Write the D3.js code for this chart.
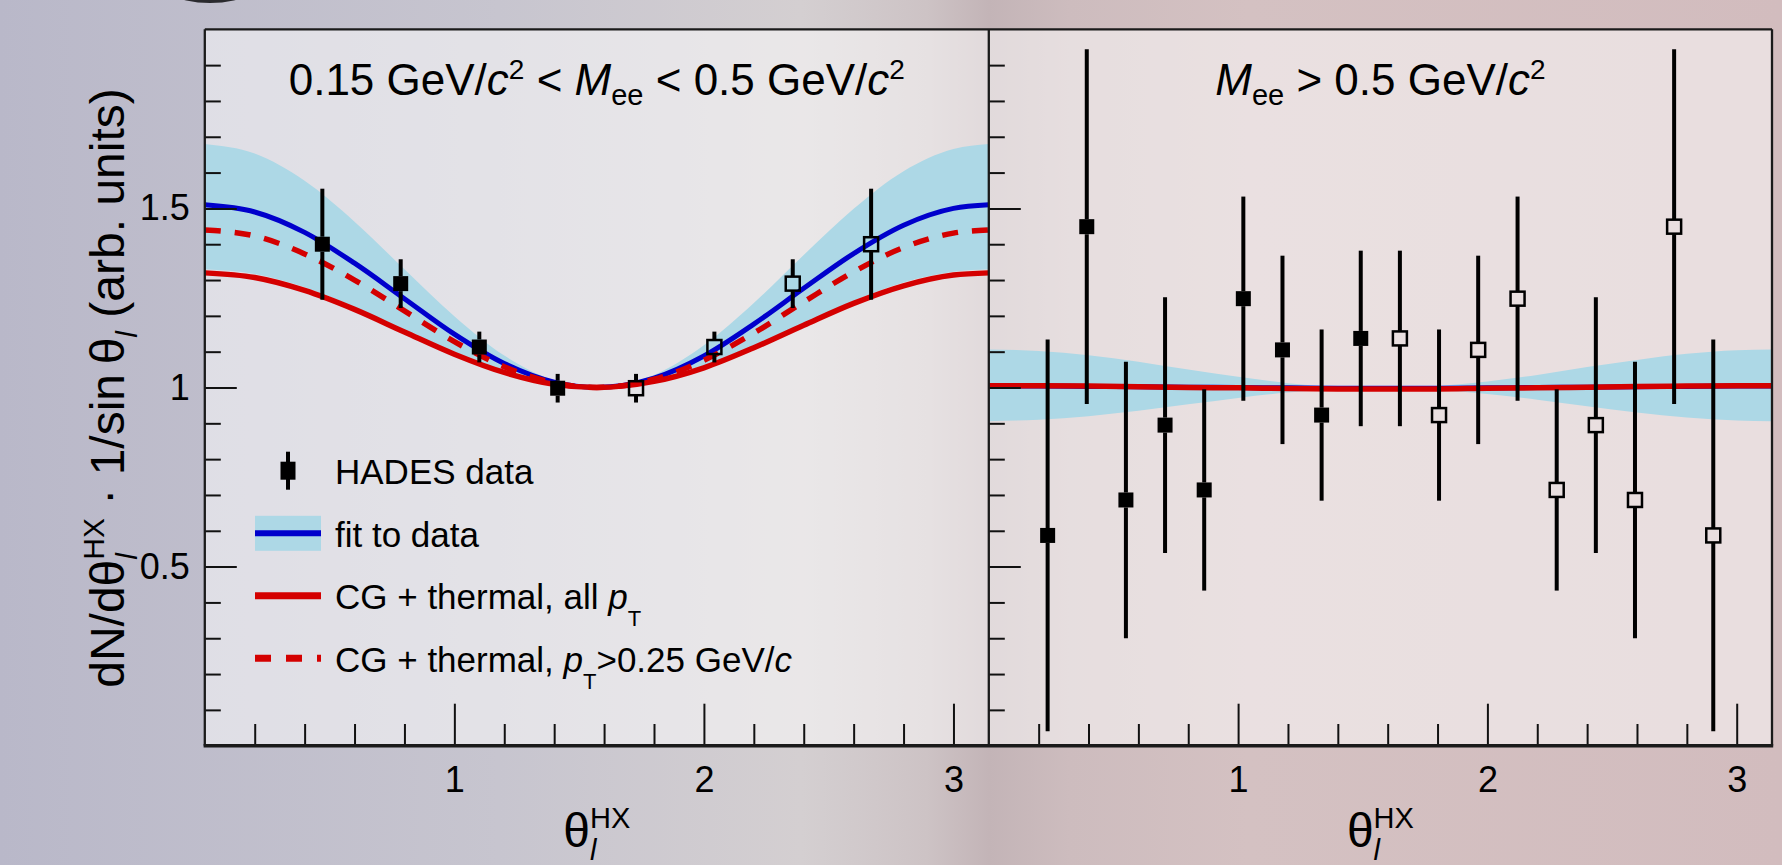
<!DOCTYPE html>
<html>
<head>
<meta charset="utf-8">
<script src="https://cdn.jsdelivr.net/npm/d3@7"></script>
<style>
  html, body { margin: 0; padding: 0; overflow: hidden; background: #c8c4cc; }
  svg text { font-family: "Liberation Sans", Arial, sans-serif; fill: #000; white-space: pre; }
</style>
</head>
<body>
<svg id="chart" width="1782" height="865"></svg>
<script>
'use strict'

// curve samples
var thetaGrid = [0, 0.2, 0.4, 0.6, 0.8, 1.0, 1.2, 1.4, 1.571, 1.8, 2.0, 2.2, 2.4, 2.6, 2.8, 3.0, 3.142];

var lowFit    = [1.51, 1.49, 1.433, 1.347, 1.248, 1.149, 1.067, 1.015, 1.0, 1.026, 1.088, 1.177, 1.277, 1.374, 1.453, 1.500, 1.51];
var lowBandHi = [1.68, 1.653, 1.577, 1.463, 1.330, 1.199, 1.089, 1.020, 1.0, 1.035, 1.118, 1.236, 1.370, 1.499, 1.604, 1.666, 1.68];
var lowBandLo = [1.33, 1.317, 1.280, 1.225, 1.160, 1.096, 1.043, 1.010, 1.0, 1.017, 1.057, 1.114, 1.179, 1.242, 1.293, 1.323, 1.33];
var lowCgAll  = [1.32, 1.307, 1.271, 1.218, 1.155, 1.093, 1.042, 1.009, 1.0, 1.017, 1.055, 1.111, 1.174, 1.235, 1.284, 1.314, 1.32];
var lowCgPt   = [1.44, 1.423, 1.373, 1.300, 1.214, 1.128, 1.058, 1.013, 1.0, 1.023, 1.076, 1.152, 1.239, 1.323, 1.391, 1.431, 1.44];

var highFit    = [1.004, 1.004, 1.003, 1.002, 1.001, 1.0, 0.999, 0.998, 0.998, 0.998, 0.999, 1.0, 1.001, 1.002, 1.003, 1.004, 1.004];
var highBandHi = [1.106, 1.102, 1.090, 1.072, 1.050, 1.030, 1.012, 1.001, 0.998, 1.004, 1.017, 1.035, 1.057, 1.077, 1.094, 1.104, 1.106];
var highBandLo = [0.906, 0.910, 0.920, 0.935, 0.953, 0.971, 0.986, 0.995, 0.998, 0.993, 0.982, 0.966, 0.948, 0.930, 0.916, 0.908, 0.906];
var highCgAll  = [1.005, 1.005, 1.004, 1.002, 1.000, 0.999, 0.997, 0.996, 0.996, 0.996, 0.998, 0.999, 1.001, 1.003, 1.004, 1.005, 1.005];

// HADES points
var lowBins   = [0.471, 0.785, 1.100, 1.414, 1.728, 2.042, 2.356, 2.670];
var lowValues = [1.40, 1.29, 1.113, 0.998, 0.998, 1.113, 1.29, 1.40];
var lowErrors = [0.155, 0.068, 0.043, 0.040, 0.040, 0.043, 0.068, 0.155];

var highBins   = [0.236, 0.393, 0.550, 0.707, 0.864, 1.021, 1.178, 1.335, 1.492, 1.649, 1.806, 1.963, 2.121, 2.278, 2.435, 2.592, 2.749, 2.906];
var highValues = [0.587, 1.449, 0.686, 0.895, 0.714, 1.248, 1.105, 0.923, 1.137, 1.137, 0.923, 1.105, 1.248, 0.714, 0.895, 0.686, 1.449, 0.587];
var highErrors = [0.547, 0.495, 0.386, 0.357, 0.281, 0.285, 0.263, 0.239, 0.245, 0.245, 0.239, 0.263, 0.285, 0.281, 0.357, 0.386, 0.495, 0.547];

var xMajorTicks = [1, 2, 3];
var xMinorTicks = [0.2, 0.4, 0.6, 0.8, 1.2, 1.4, 1.6, 1.8, 2.2, 2.4, 2.6, 2.8];
var yMajorTicks = [0.5, 1, 1.5];
var yMinorTicks = [0.1, 0.2, 0.3, 0.4, 0.6, 0.7, 0.8, 0.9, 1.1, 1.2, 1.3, 1.4, 1.6, 1.7, 1.8, 1.9];

var legendLabels = ["HADES data", "fit to data", "CG + thermal, all ", "CG + thermal, "];

var BLUE = "#0000cc", RED = "#d40000", BAND = "#add8e6";

var svg = d3.select("#chart");
var defs = svg.append("defs");

var grad = defs.append("linearGradient").attr("id", "bg")
    .attr("x1", 0).attr("x2", 1).attr("y1", 0).attr("y2", 0);
[[0, "#b9b8c9"], [0.28, "#c7c5cf"], [0.45, "#d4cfd1"], [0.52, "#cdc3c5"], [0.555, "#c3b4b7"],
 [0.6, "#cdbcbe"], [0.7, "#d4c1c2"], [1, "#d2bcbe"]].forEach(function (s) {
    grad.append("stop").attr("offset", s[0]).attr("stop-color", s[1]);
});
svg.append("rect").attr("width", 1782).attr("height", 865).attr("fill", "url(#bg)");
svg.append("ellipse").attr("cx", 210).attr("cy", -30).attr("rx", 62).attr("ry", 33).attr("fill", "#2a2a2e");

var yTop = 29.3, yBot = 745.7;
var y = d3.scaleLinear().domain([0, 2]).range([yBot, yTop]);
var xLow = d3.scaleLinear().domain([0, Math.PI]).range([204.8, 988.8]);
var xHigh = d3.scaleLinear().domain([0, Math.PI]).range([988.8, 1772]);

function richText(sel, parts) {
    var cur = 0;
    parts.forEach(function (p) {
        var s = p.shift || 0;
        var ts = sel.append("tspan").attr("dy", s - cur).text(p.t);
        if (p.size) ts.attr("font-size", p.size);
        if (p.it) ts.attr("font-style", "italic");
        if (p.back) ts.attr("dx", -sel.node().lastChild.previousSibling.getComputedTextLength());
        cur = s;
    });
    return sel;
}

function curveLine(x, vals) {
    return d3.line()
        .x(function (d, i) { return x(thetaGrid[i]); })
        .y(function (d) { return y(d); })
        .curve(d3.curveMonotoneX)(vals);
}

function bandArea(x, lo, hi) {
    return d3.area()
        .x(function (d, i) { return x(thetaGrid[i]); })
        .y0(function (d, i) { return y(lo[i]); })
        .y1(function (d) { return y(d); })
        .curve(d3.curveMonotoneX)(hi);
}

function drawPoints(g, x, bins, vals, errs) {
    var half = 7.5;
    bins.forEach(function (b, i) {
        var cx = x(b), cy = y(vals[i]);
        var open = b > Math.PI / 2;
        g.append("line").attr("x1", cx).attr("x2", cx)
            .attr("y1", y(vals[i] + errs[i])).attr("y2", cy - half)
            .attr("stroke", "#000").attr("stroke-width", 4);
        g.append("line").attr("x1", cx).attr("x2", cx)
            .attr("y1", cy + half).attr("y2", y(vals[i] - errs[i]))
            .attr("stroke", "#000").attr("stroke-width", 4);
        if (open) {
            g.append("rect").attr("x", cx - 7).attr("y", cy - 7).attr("width", 14).attr("height", 14)
                .attr("fill", "none").attr("stroke", "#000").attr("stroke-width", 2.5);
        } else {
            g.append("rect").attr("x", cx - half).attr("y", cy - half).attr("width", 15).attr("height", 15)
                .attr("fill", "#000");
        }
    });
}

function drawAxes(g, x, withYLabels) {
    var x0 = x.range()[0];
    var ax = g.append("g").attr("transform", "translate(0," + yBot + ")");
    ax.append("g").call(d3.axisBottom(x).tickValues(xMajorTicks).tickSize(-42).tickPadding(21).tickFormat(d3.format("d")));
    ax.append("g").call(d3.axisBottom(x).tickValues(xMinorTicks).tickSize(-21.7).tickFormat(""));
    var ay = g.append("g").attr("transform", "translate(" + x0 + ",0)");
    ay.append("g").call(d3.axisLeft(y).tickValues(yMajorTicks).tickSize(-32).tickPadding(15)
        .tickFormat(withYLabels ? d3.format("") : ""));
    ay.append("g").call(d3.axisLeft(y).tickValues(yMinorTicks).tickSize(-16).tickFormat(""));
    g.selectAll(".domain").remove();
    g.selectAll(".tick line").attr("stroke", "#111").attr("stroke-width", 2);
    g.selectAll(".tick text").attr("font-size", 36).attr("font-family", "Liberation Sans, Arial, sans-serif").attr("fill", "#000");
}

function xTitle(g, x) {
    var cx = (x.range()[0] + x.range()[1]) / 2;
    var t = g.append("text").attr("x", cx).attr("y", 846.7).attr("text-anchor", "middle").attr("font-size", 48);
    richText(t, [
        { t: "\u03b8" },
        { t: "l", size: 29, it: true, shift: 13 },
        { t: "HX", size: 29, shift: -19, back: true }
    ]);
}

// panels
var panels = [
    { x: xLow, fit: lowFit, hi: lowBandHi, lo: lowBandLo, cg: lowCgAll, cgPt: lowCgPt,
      bins: lowBins, vals: lowValues, errs: lowErrors, labels: true },
    { x: xHigh, fit: highFit, hi: highBandHi, lo: highBandLo, cg: highCgAll, cgPt: null,
      bins: highBins, vals: highValues, errs: highErrors, labels: false }
];

panels.forEach(function (p) {
    var g = svg.append("g");
    var r = p.x.range();
    g.append("rect").attr("x", r[0]).attr("y", yTop).attr("width", r[1] - r[0]).attr("height", yBot - yTop)
        .attr("fill", "#ffffff").attr("fill-opacity", 0.5);
    g.append("path").attr("d", bandArea(p.x, p.lo, p.hi)).attr("fill", BAND);
    g.append("path").attr("d", curveLine(p.x, p.fit)).attr("fill", "none").attr("stroke", BLUE).attr("stroke-width", 5);
    if (p.cgPt) {
        g.append("path").attr("d", curveLine(p.x, p.cgPt)).attr("fill", "none").attr("stroke", RED)
            .attr("stroke-width", 5.5).attr("stroke-dasharray", "16,14");
    }
    g.append("path").attr("d", curveLine(p.x, p.cg)).attr("fill", "none").attr("stroke", RED).attr("stroke-width", 5.5);
    drawPoints(g, p.x, p.bins, p.vals, p.errs);
    drawAxes(g, p.x, p.labels);
    xTitle(g, p.x);
});

// panel titles
var t1 = svg.append("text").attr("x", 596.8).attr("y", 95).attr("text-anchor", "middle").attr("font-size", 44);
richText(t1, [
    { t: "0.15 GeV/" }, { t: "c", it: true }, { t: "2", size: 28, shift: -16 },
    { t: " < " }, { t: "M", it: true }, { t: "ee", size: 29, shift: 10 },
    { t: " < 0.5 GeV/" }, { t: "c", it: true }, { t: "2", size: 28, shift: -16 }
]);
var t2 = svg.append("text").attr("x", 1380.4).attr("y", 95).attr("text-anchor", "middle").attr("font-size", 44);
richText(t2, [
    { t: "M", it: true }, { t: "ee", size: 29, shift: 10 },
    { t: " > 0.5 GeV/" }, { t: "c", it: true }, { t: "2", size: 28, shift: -16 }
]);

// y title
var yt = svg.append("text").attr("transform", "translate(124,388) rotate(-90)")
    .attr("text-anchor", "middle").attr("font-size", 48);
richText(yt, [
    { t: "dN/d\u03b8" },
    { t: "l", size: 30, it: true, shift: 13 },
    { t: "HX", size: 30, shift: -20, back: true },
    { t: " \u00b7 1/sin\u2009\u03b8" },
    { t: "l", size: 30, it: true, shift: 13 },
    { t: " (arb. units)" }
]);

// legend
var lg = svg.append("g");
var lx = 255, lw = 66, tx = 335;
var rows = [470.7, 533.3, 595.7, 658.3];
lg.append("line").attr("x1", lx + lw / 2).attr("x2", lx + lw / 2).attr("y1", rows[0] - 19).attr("y2", rows[0] + 19)
    .attr("stroke", "#000").attr("stroke-width", 4);
lg.append("rect").attr("x", lx + lw / 2 - 7.5).attr("y", rows[0] - 9).attr("width", 15).attr("height", 18).attr("fill", "#000");
lg.append("rect").attr("x", lx).attr("y", rows[1] - 17.5).attr("width", lw).attr("height", 35).attr("fill", BAND);
lg.append("line").attr("x1", lx).attr("x2", lx + lw).attr("y1", rows[1]).attr("y2", rows[1])
    .attr("stroke", BLUE).attr("stroke-width", 6);
lg.append("line").attr("x1", lx).attr("x2", lx + lw).attr("y1", rows[2]).attr("y2", rows[2])
    .attr("stroke", RED).attr("stroke-width", 7);
lg.append("line").attr("x1", lx).attr("x2", lx + lw).attr("y1", rows[3]).attr("y2", rows[3])
    .attr("stroke", RED).attr("stroke-width", 7).attr("stroke-dasharray", "16,15");

var lt = function (i) {
    return lg.append("text").attr("x", tx).attr("y", rows[i] + 13.3).attr("font-size", 35);
};
lt(0).text(legendLabels[0]);
lt(1).text(legendLabels[1]);
richText(lt(2), [{ t: legendLabels[2] }, { t: "p", it: true }, { t: "T", size: 22, shift: 17 }]);
richText(lt(3), [{ t: legendLabels[3] }, { t: "p", it: true }, { t: "T", size: 22, shift: 17 },
    { t: ">0.25 GeV/" }, { t: "c", it: true }]);

// frame
var fr = svg.append("g").attr("stroke", "#1a1a1a").attr("fill", "none");
fr.append("line").attr("x1", 204.8).attr("x2", 1772).attr("y1", yTop).attr("y2", yTop).attr("stroke-width", 2.3);
fr.append("line").attr("x1", 1772).attr("x2", 1772).attr("y1", yTop).attr("y2", yBot).attr("stroke-width", 2.3);
fr.append("line").attr("x1", 204.8).attr("x2", 204.8).attr("y1", yTop).attr("y2", yBot).attr("stroke-width", 2.3);
fr.append("line").attr("x1", 988.8).attr("x2", 988.8).attr("y1", yTop).attr("y2", yBot).attr("stroke-width", 2.3);
fr.append("line").attr("x1", 203.6).attr("x2", 1773.2).attr("y1", yBot).attr("y2", yBot).attr("stroke-width", 3.4);
</script>
</body>
</html>
